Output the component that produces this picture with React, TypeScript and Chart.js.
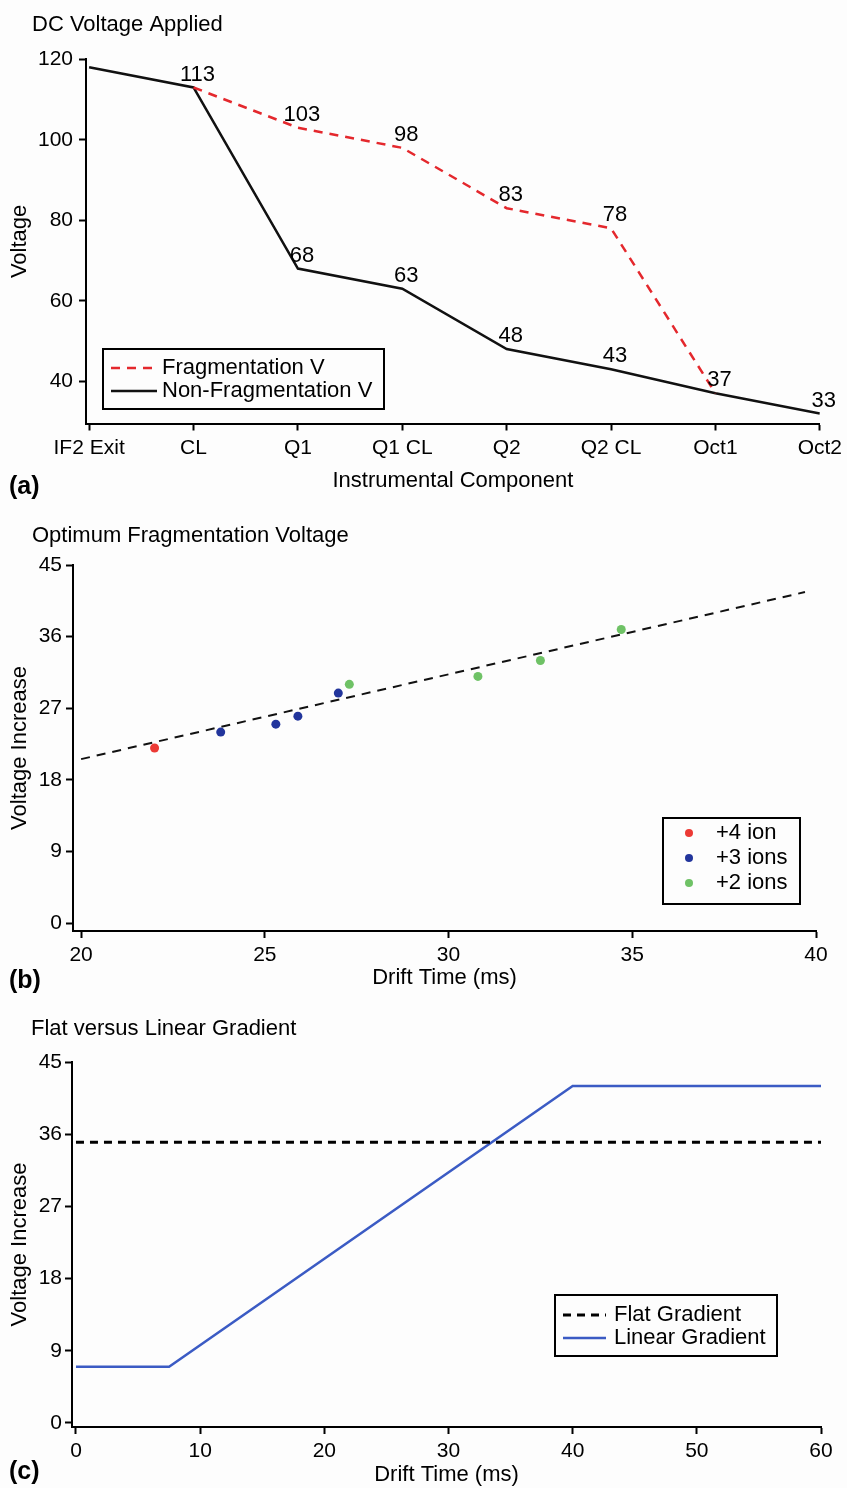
import React, { useEffect, useRef } from "react";
import { Chart, registerables } from "chart.js";

Chart.register(...registerables);

// ---------- Panel (a): DC Voltage Applied ----------
const componentLabels = ["IF2 Exit", "CL", "Q1", "Q1 CL", "Q2", "Q2 CL", "Oct1", "Oct2"];
const fragVoltage = [null, 113, 103, 98, 83, 78, 37, null];
const nonFragVoltage = [118, 113, 68, 63, 48, 43, 37, 32];
const fragValueLabels = [null, "113", "103", "98", "83", "78", null, null];
const nonFragValueLabels = [null, null, "68", "63", "48", "43", "37", "33"];
const voltageTicks = [40, 60, 80, 100, 120];

// ---------- Panel (b): Optimum Fragmentation Voltage ----------
const ion4X = [22.0];
const ion4Y = [22.0];
const ion3X = [23.8, 25.3, 25.9, 27.0];
const ion3Y = [24.0, 25.0, 26.0, 28.9];
const ion2X = [27.3, 30.8, 32.5, 34.7];
const ion2Y = [30.0, 31.0, 33.0, 36.9];
const trendX = [20, 39.7];
const trendY = [20.6, 41.6];
const driftTicksB = [20, 25, 30, 35, 40];
const increaseTicks = [0, 9, 18, 27, 36, 45];

// ---------- Panel (c): Flat versus Linear Gradient ----------
const flatX = [0, 60];
const flatY = [35, 35];
const linearX = [0, 7.5, 40, 60];
const linearY = [7, 7, 42, 42];
const driftTicksC = [0, 10, 20, 30, 40, 50, 60];

const FONT = "'Liberation Sans', Arial, Helvetica, sans-serif";
const BG = "#fdfdfd";
const RED = "#e4282d";
const SCAT_RED = "#ec3a35";
const SCAT_BLUE = "#22359c";
const SCAT_GREEN = "#6fc266";
const LINE_BLUE = "#3b5bc4";
const TXT = 22;

const font = (size: number, weight: string = "normal") => ({ family: FONT, size, weight, lineHeight: 1.2 });

const pts = (xs: number[], ys: (number | null)[]) => xs.map((x, i) => ({ x, y: ys[i] }));

function axis(o: {
  min: number; max: number; ticks: number[]; size: number; title: string;
  titlePad: any; tickPad: number; fmt?: (v: number) => string;
}) {
  return {
    type: "linear",
    min: o.min,
    max: o.max,
    afterBuildTicks: (s: any) => { s.ticks = o.ticks.map((v) => ({ value: v })); },
    afterFit: (s: any) => { if (s.isHorizontal()) s.height = o.size; else s.width = o.size; },
    ticks: {
      autoSkip: false, maxRotation: 0, minRotation: 0, padding: o.tickPad, color: "#000",
      font: font(21),
      callback: (v: any) => (o.fmt ? o.fmt(v) : String(v)),
    },
    grid: { display: true, drawOnChartArea: false, drawTicks: true, tickLength: 7, tickWidth: 2, tickColor: "#000" },
    border: { display: true, color: "#000", width: 2 },
    title: { display: true, text: o.title, color: "#000", font: font(TXT), padding: o.titlePad },
  };
}

const decorPlugin = {
  id: "decor",
  afterDatasetsDraw(chart: any, _a: any, opts: any) {
    const ctx = chart.ctx;
    ctx.save();
    ctx.font = `${TXT}px ${FONT}`;
    ctx.fillStyle = "#000";
    ctx.textAlign = "center";
    ctx.textBaseline = "middle";
    chart.data.datasets.forEach((ds: any, i: number) => {
      if (!ds.valueLabels) return;
      const meta = chart.getDatasetMeta(i);
      ds.valueLabels.forEach((lab: string | null, j: number) => {
        if (!lab) return;
        const el = meta.data[j];
        if (!el) return;
        ctx.fillText(lab, el.x + (opts.labelDx || 0), el.y + (opts.labelDy || 0));
      });
    });
    ctx.restore();
  },
  afterDraw(chart: any, _a: any, opts: any) {
    const ctx = chart.ctx;
    ctx.save();
    ctx.fillStyle = "#000";
    ctx.textBaseline = "alphabetic";
    ctx.textAlign = "left";
    ctx.font = `${TXT}px ${FONT}`;
    ctx.fillText(opts.title, opts.titleX, opts.titleY);
    ctx.font = `bold 25px ${FONT}`;
    ctx.fillText(opts.letter, opts.letterX, opts.letterY);

    const lg = opts.legend;
    if (lg) {
      ctx.fillStyle = BG;
      ctx.fillRect(lg.x, lg.y, lg.w, lg.h);
      ctx.lineWidth = 2;
      ctx.strokeStyle = "#000";
      ctx.setLineDash([]);
      ctx.strokeRect(lg.x, lg.y, lg.w, lg.h);
      const items = chart.data.datasets.filter((d: any) => !d.noLegend);
      items.forEach((ds: any, i: number) => {
        const yy = lg.rows[i];
        if (ds.showLine === false) {
          ctx.fillStyle = ds.backgroundColor;
          ctx.beginPath();
          ctx.arc(lg.dotX, yy, 4, 0, Math.PI * 2);
          ctx.fill();
        } else {
          ctx.strokeStyle = ds.borderColor;
          ctx.lineWidth = ds.borderWidth;
          ctx.setLineDash(ds.borderDash || []);
          ctx.beginPath();
          ctx.moveTo(lg.x0, yy);
          ctx.lineTo(lg.x1, yy);
          ctx.stroke();
          ctx.setLineDash([]);
        }
        ctx.fillStyle = "#000";
        ctx.font = `${TXT}px ${FONT}`;
        ctx.textBaseline = "middle";
        ctx.fillText(ds.label, lg.textX, yy);
      });
    }
    ctx.restore();
  },
};

const baseOptions = {
  responsive: false,
  animation: false,
  devicePixelRatio: 1,
  events: [],
};

function configA(): any {
  return {
    type: "line",
    data: {
      datasets: [
        {
          label: "Fragmentation V",
          data: pts(componentLabels.map((_, i) => i), fragVoltage),
          borderColor: RED, borderWidth: 2.5, borderDash: [9, 7],
          pointRadius: 0, fill: false, tension: 0,
          valueLabels: fragValueLabels,
        },
        {
          label: "Non-Fragmentation V",
          data: pts(componentLabels.map((_, i) => i), nonFragVoltage),
          borderColor: "#111", borderWidth: 2.5,
          pointRadius: 0, fill: false, tension: 0,
          valueLabels: nonFragValueLabels,
        },
      ],
    },
    options: {
      ...baseOptions,
      layout: { padding: { top: 59.3, right: 25, left: 0, bottom: 0 } },
      plugins: {
        legend: { display: false },
        tooltip: { enabled: false },
        decor: {
          title: "DC Voltage Applied", titleX: 32, titleY: 31,
          letter: "(a)", letterX: 9, letterY: 494,
          labelDx: 4, labelDy: -13,
          legend: { x: 103, y: 349, w: 281, h: 60, rows: [368, 391], x0: 111, x1: 157, textX: 162 },
        },
      },
      scales: {
        x: axis({
          min: -0.03, max: 7, ticks: componentLabels.map((_, i) => i), size: 81.5,
          title: "Instrumental Component", titlePad: { top: 0, bottom: 10.8 }, tickPad: 5,
          fmt: (v) => componentLabels[Math.round(v)] ?? "",
        }),
        y: axis({
          min: 29.5, max: 120, ticks: voltageTicks, size: 86,
          title: "Voltage", titlePad: { top: 6.8, bottom: 0 }, tickPad: 6,
        }),
      },
    },
    plugins: [decorPlugin],
  };
}

function configB(): any {
  return {
    type: "scatter",
    data: {
      datasets: [
        { label: "+4 ion", data: pts(ion4X, ion4Y), showLine: false, backgroundColor: SCAT_RED, pointBackgroundColor: SCAT_RED, pointBorderWidth: 0, pointRadius: 4.5 },
        { label: "+3 ions", data: pts(ion3X, ion3Y), showLine: false, backgroundColor: SCAT_BLUE, pointBackgroundColor: SCAT_BLUE, pointBorderWidth: 0, pointRadius: 4.5 },
        { label: "+2 ions", data: pts(ion2X, ion2Y), showLine: false, backgroundColor: SCAT_GREEN, pointBackgroundColor: SCAT_GREEN, pointBorderWidth: 0, pointRadius: 4.5 },
        { label: "Trend", data: pts(trendX, trendY), showLine: true, noLegend: true, borderColor: "#111", borderWidth: 2, borderDash: [9, 7], pointRadius: 0, fill: false },
      ],
    },
    options: {
      ...baseOptions,
      layout: { padding: { top: 60, right: 31, left: 0, bottom: 0 } },
      plugins: {
        legend: { display: false },
        tooltip: { enabled: false },
        decor: {
          title: "Optimum Fragmentation Voltage", titleX: 32, titleY: 36.5,
          letter: "(b)", letterX: 9, letterY: 483,
          legend: { x: 663, y: 313, w: 137, h: 86, rows: [328, 353, 378], dotX: 689, textX: 716 },
        },
      },
      scales: {
        x: axis({
          min: 19.78, max: 40, ticks: driftTicksB, size: 69,
          title: "Drift Time (ms)", titlePad: { top: 0, bottom: 8.8 }, tickPad: 4.5,
        }),
        y: axis({
          min: -1, max: 45, ticks: increaseTicks, size: 73,
          title: "Voltage Increase", titlePad: { top: 6.8, bottom: 0 }, tickPad: 4,
        }),
      },
    },
    plugins: [decorPlugin],
  };
}

function configC(): any {
  return {
    type: "line",
    data: {
      datasets: [
        { label: "Flat Gradient", data: pts(flatX, flatY), borderColor: "#000", borderWidth: 3, borderDash: [8, 6], pointRadius: 0, fill: false, tension: 0 },
        { label: "Linear Gradient", data: pts(linearX, linearY), borderColor: LINE_BLUE, borderWidth: 2.5, pointRadius: 0, fill: false, tension: 0 },
      ],
    },
    options: {
      ...baseOptions,
      layout: { padding: { top: 62, right: 26, left: 0, bottom: 0 } },
      plugins: {
        legend: { display: false },
        tooltip: { enabled: false },
        decor: {
          title: "Flat versus Linear Gradient", titleX: 31, titleY: 35,
          letter: "(c)", letterX: 9, letterY: 479,
          legend: { x: 555, y: 295, w: 222, h: 61, rows: [315, 338], x0: 563, x1: 606, textX: 614 },
        },
      },
      scales: {
        x: axis({
          min: -0.32, max: 60, ticks: driftTicksC, size: 61,
          title: "Drift Time (ms)", titlePad: { top: 0, bottom: 0 }, tickPad: 4.5,
        }),
        y: axis({
          min: -0.5, max: 45, ticks: increaseTicks, size: 72,
          title: "Voltage Increase", titlePad: { top: 6.8, bottom: 0 }, tickPad: 3,
        }),
      },
    },
    plugins: [decorPlugin],
  };
}

export default function App() {
  const refA = useRef<HTMLCanvasElement>(null);
  const refB = useRef<HTMLCanvasElement>(null);
  const refC = useRef<HTMLCanvasElement>(null);

  useEffect(() => {
    const charts = [
      new Chart(refA.current as HTMLCanvasElement, configA()),
      new Chart(refB.current as HTMLCanvasElement, configB()),
      new Chart(refC.current as HTMLCanvasElement, configC()),
    ];
    return () => charts.forEach((c) => c.destroy());
  }, []);

  const cv = (top: number, h: number): React.CSSProperties => ({
    position: "absolute", left: 0, top, width: 847, height: h, display: "block",
  });

  return (
    <div style={{ position: "absolute", left: 0, top: 0, width: 847, height: 1488, background: BG, overflow: "hidden" }}>
      <canvas ref={refA} width={847} height={505} style={cv(0, 505)} />
      <canvas ref={refB} width={847} height={495} style={cv(505, 495)} />
      <canvas ref={refC} width={847} height={488} style={cv(1000, 488)} />
    </div>
  );
}
